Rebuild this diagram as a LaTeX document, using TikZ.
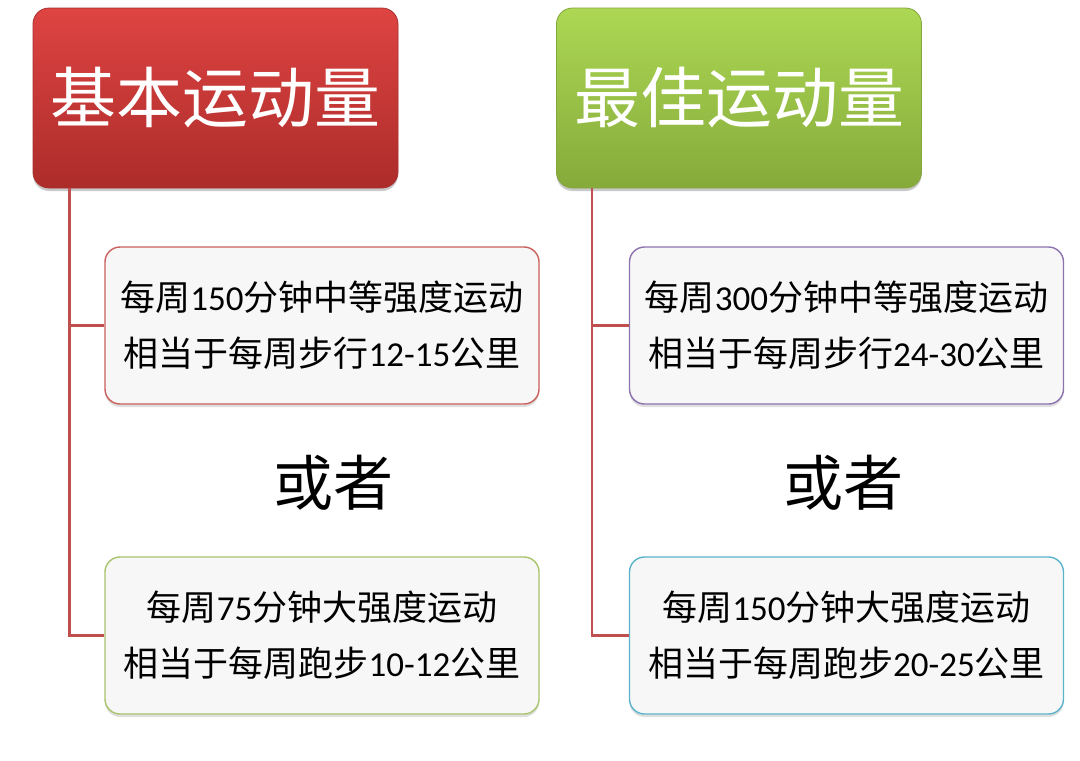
\documentclass[tikz,border=0pt]{standalone}
\usepackage{fontspec}
\setmainfont{Noto Sans CJK SC}
\newfontfamily\latd{Carlito}
\usetikzlibrary{shadows}
\definecolor{conn}{HTML}{C0504D}
\definecolor{bred}{HTML}{C9605C}
\definecolor{bgreen}{HTML}{A8C46E}
\definecolor{bpurple}{HTML}{8C72AE}
\definecolor{bcyan}{HTML}{5BB4CC}
\definecolor{boxfill}{HTML}{F7F7F7}
\definecolor{redtop}{RGB}{222,68,66}
\definecolor{redbot}{RGB}{172,44,42}
\definecolor{redline}{RGB}{168,48,46}
\definecolor{greentop}{RGB}{172,216,84}
\definecolor{greenbot}{RGB}{134,170,58}
\definecolor{greenline}{RGB}{132,166,60}
\tikzset{
  headbox/.style={rectangle, rounded corners=16pt, minimum width=365pt, minimum height=180pt,
    inner sep=0pt, text=white, font=\fontsize{66}{70}\selectfont, line width=0.8pt,
    drop shadow={shadow xshift=0pt, shadow yshift=-3pt, opacity=0.35, fill=black!60}},
  redhead/.style={headbox, top color=redtop, bottom color=redbot, draw=redline},
  greenhead/.style={headbox, top color=greentop, bottom color=greenbot, draw=greenline},
  infobox/.style={rectangle, rounded corners=15pt, minimum width=434pt, minimum height=157pt,
    inner sep=0pt, fill=boxfill, line width=1.4pt, align=center,
    font=\fontsize{35}{56}\selectfont,
    drop shadow={shadow xshift=0pt, shadow yshift=-3pt, opacity=0.25, fill=black!50}},
  orword/.style={font=\fontsize{60}{62}\selectfont, inner sep=0pt},
  connline/.style={draw=conn, line width=2.4pt}
}
\begin{document}
\begin{tikzpicture}[x=1pt,y=-1pt]
\useasboundingbox (0,0) rectangle (1080,761);
\fill[white] (0,0) rectangle (1080,761);
% headers
\node[redhead] (hl) at (215.5,98) {基本运动量};
\node[greenhead] (hr) at (739,98) {最佳运动量};
% trunk points
\coordinate (lt) at ([xshift=37pt]hl.south west);
\coordinate (rt) at ([xshift=36pt]hr.south west);
% detail boxes
\node[infobox, draw=bred] (l1) at (322,325.5) {每周{\latd 150}分钟中等强度运动\\相当于每周步行{\latd 12-15}公里};
\node[infobox, draw=bgreen] (l2) at (322,635.5) {每周{\latd 75}分钟大强度运动\\相当于每周跑步{\latd 10-12}公里};
\node[infobox, draw=bpurple] (r1) at (846.5,325.5) {每周{\latd 300}分钟中等强度运动\\相当于每周步行{\latd 24-30}公里};
\node[infobox, draw=bcyan] (r2) at (846.5,635.5) {每周{\latd 150}分钟大强度运动\\相当于每周跑步{\latd 20-25}公里};
% connectors
\draw[connline] (lt) |- (l1.west);
\draw[connline] (lt) |- (l2.west);
\draw[connline] (rt) |- (r1.west);
\draw[connline] (rt) |- (r2.west);
\node[orword] (o1) at (333,483) {或者};
\node[orword] (o2) at (843,483) {或者};
\end{tikzpicture}
\end{document}
